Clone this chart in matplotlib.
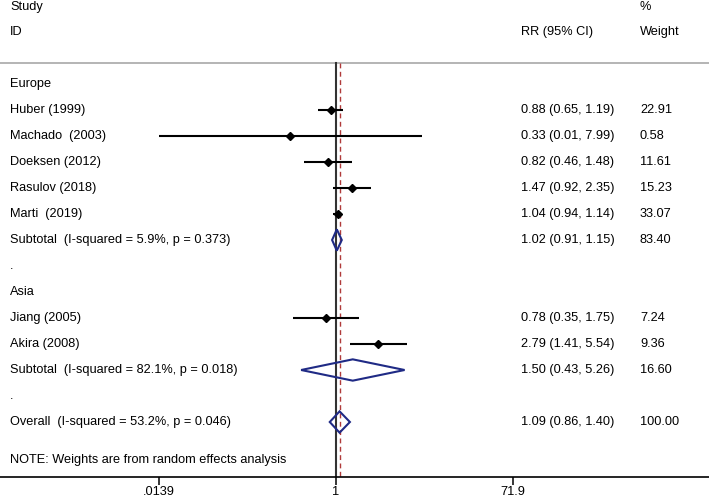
import numpy as np
import matplotlib
matplotlib.use("Agg")
import matplotlib.pyplot as plt
from matplotlib.patches import Polygon
import matplotlib.transforms as mtransforms

plt.rcParams['font.family'] = ['Liberation Sans', 'DejaVu Sans']

# study level data
europe_names = ["Huber (1999)", "Machado  (2003)", "Doeksen (2012)", "Rasulov (2018)", "Marti  (2019)"]
europe_rr = [0.88, 0.33, 0.82, 1.47, 1.04]
europe_lo = [0.65, 0.01, 0.46, 0.92, 0.94]
europe_hi = [1.19, 7.99, 1.48, 2.35, 1.14]
europe_w = [22.91, 0.58, 11.61, 15.23, 33.07]

asia_names = ["Jiang (2005)", "Akira (2008)"]
asia_rr = [0.78, 2.79]
asia_lo = [0.35, 1.41]
asia_hi = [1.75, 5.54]
asia_w = [7.24, 9.36]

# pooled estimates
sub_labels = ["Subtotal  (I-squared = 5.9%, p = 0.373)",
              "Subtotal  (I-squared = 82.1%, p = 0.018)",
              "Overall  (I-squared = 53.2%, p = 0.046)"]
sub_rr = [1.02, 1.50, 1.09]
sub_lo = [0.91, 0.43, 0.86]
sub_hi = [1.15, 5.26, 1.40]
sub_w = [83.40, 16.60, 100.00]

xticks = [0.0139, 1, 71.9]
xtick_labels = [".0139", "1", "71.9"]

W, H = 709, 498
fig = plt.figure(figsize=(W / 100, H / 100), dpi=100)
ax_bottom = 477
ax = fig.add_axes([0, (H - ax_bottom) / H, 1, ax_bottom / H])

# pixel geometry of the log axis
px_one = 336.0
px_dec = 95.15
ax.set_xscale('log')
ax.set_xlim(10 ** (-px_one / px_dec), 10 ** ((W - px_one) / px_dec))
row0, rowh = 84.0, 26.0
ax.set_ylim((ax_bottom - row0) / rowh, (0 - row0) / rowh)

for s in ['top', 'left', 'right']:
    ax.spines[s].set_visible(False)
ax.spines['bottom'].set_linewidth(1.2)
ax.set_yticks([])
ax.set_xticks(xticks)
ax.set_xticklabels(xtick_labels)
ax.minorticks_off()
ax.tick_params(axis='x', length=6, width=1.1, labelsize=9.2, pad=0.5)

fs = 9.2
tr = mtransforms.blended_transform_factory(ax.transAxes, ax.transData)
xl, xr1, xr2 = 10 / W, 521 / W, 640 / W


def rowtext(y, left, rr="", w=""):
    ax.text(xl, y, left, transform=tr, fontsize=fs, va='center', ha='left')
    if rr:
        ax.text(xr1, y, rr, transform=tr, fontsize=fs, va='center', ha='left')
    if w:
        ax.text(xr2, y, w, transform=tr, fontsize=fs, va='center', ha='left')


def fmt(r, lo, hi):
    return "%.2f (%.2f, %.2f)" % (r, lo, hi)


def study(y, name, r, lo, hi, w):
    lo_c = max(lo, xticks[0])
    hi_c = min(hi, xticks[-1])
    ax.plot([lo_c, hi_c], [y, y], color='black', lw=1.5, solid_capstyle='butt', zorder=3)
    ax.plot([r], [y], marker='D', color='black', ms=3.6, zorder=4)
    rowtext(y, name, fmt(r, lo, hi), "%.2f" % w)


def pooled(y, label, r, lo, hi, w):
    hh = 0.41
    ax.add_patch(Polygon([[lo, y], [r, y - hh], [hi, y], [r, y + hh]], closed=True,
                         fill=False, edgecolor='#1f2a85', lw=1.5, zorder=4))
    rowtext(y, label, fmt(r, lo, hi), "%.2f" % w)


# header
top_sep = (63 - row0) / rowh
rowtext((7 - row0) / rowh, "Study", "", "%")
rowtext((32 - row0) / rowh, "ID", "RR (95% CI)", "Weight")
ax.plot(ax.get_xlim(), [top_sep, top_sep], color='#a8a8a8', lw=1.2, clip_on=False)

ybot = (ax_bottom - row0) / rowh
ax.plot([1, 1], [top_sep, ybot], color='#333333', lw=1.5, zorder=2)
ax.plot([sub_rr[2], sub_rr[2]], [top_sep, ybot], color='#b03a3a', lw=1.0,
        ls=(0, (3.5, 2.5)), zorder=2)

y = 0
rowtext(y, "Europe")
for i in range(len(europe_names)):
    y += 1
    study(y, europe_names[i], europe_rr[i], europe_lo[i], europe_hi[i], europe_w[i])
y += 1
pooled(y, sub_labels[0], sub_rr[0], sub_lo[0], sub_hi[0], sub_w[0])
y += 1
rowtext(y, ".")
y += 1
rowtext(y, "Asia")
for i in range(len(asia_names)):
    y += 1
    study(y, asia_names[i], asia_rr[i], asia_lo[i], asia_hi[i], asia_w[i])
y += 1
pooled(y, sub_labels[1], sub_rr[1], sub_lo[1], sub_hi[1], sub_w[1])
y += 1
rowtext(y, ".")
y += 1
pooled(y, sub_labels[2], sub_rr[2], sub_lo[2], sub_hi[2], sub_w[2])

rowtext((460 - row0) / rowh, "NOTE: Weights are from random effects analysis")

fig.savefig("out.png", dpi=100)
